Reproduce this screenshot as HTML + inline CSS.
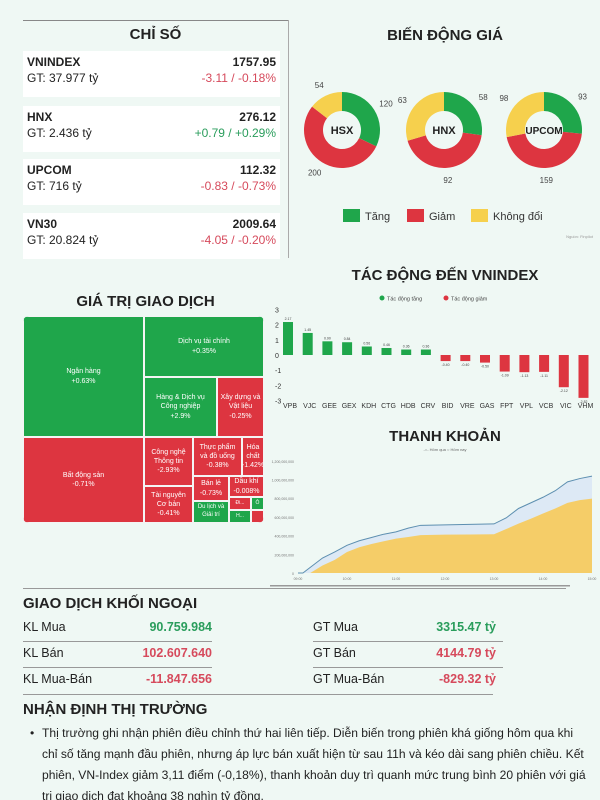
<!DOCTYPE html>
<html><head><meta charset="utf-8"><style>
*{margin:0;padding:0;box-sizing:border-box}
html,body{width:600px;height:800px;overflow:hidden}
body{background:#eff8f4;font-family:"Liberation Sans","Noto Sans CJK SC",sans-serif;position:relative;color:#222}
.abs{position:absolute}
.card{position:absolute;left:23px;width:257px;height:46px;background:#fff}
.card .n{position:absolute;left:4px;top:4px;font-size:12px;font-weight:bold}
.card .g{position:absolute;left:4px;top:20px;font-size:12px}
.card .v{position:absolute;right:4px;top:4px;font-size:12px;font-weight:bold}
.card .c{position:absolute;right:4px;top:20px;font-size:12px}
.red{color:#d64a5c}.grn{color:#2a9d5c}
.title{position:absolute;font-weight:bold;color:#222;text-align:center}
.tm{position:absolute;color:#fff;font-size:7px;text-align:center;display:flex;align-items:center;justify-content:center;border:1px solid #f4f4f4;line-height:1.3;overflow:hidden}
.G{background:#1fa64b}.R{background:#dd3540}
.row{position:absolute;font-size:12.5px}
.ln{position:absolute;height:1px;background:#999}
</style></head><body>
<div class="ln" style="left:23px;top:20px;width:265px;background:#888"></div>
<div class="abs" style="left:288px;top:20px;width:1px;height:238px;background:#aaa"></div>
<div class="title" style="left:23px;top:26px;width:265px;font-size:15px">CHỈ SỐ</div>
<div class="card" style="top:51px"><div class="n">VNINDEX</div><div class="g">GT: 37.977 tỷ</div><div class="v">1757.95</div><div class="c red">-3.11 / -0.18%</div></div>
<div class="card" style="top:106px"><div class="n">HNX</div><div class="g">GT: 2.436 tỷ</div><div class="v">276.12</div><div class="c grn">+0.79 / +0.29%</div></div>
<div class="card" style="top:159px"><div class="n">UPCOM</div><div class="g">GT: 716 tỷ</div><div class="v">112.32</div><div class="c red">-0.83 / -0.73%</div></div>
<div class="card" style="top:213px"><div class="n">VN30</div><div class="g">GT: 20.824 tỷ</div><div class="v">2009.64</div><div class="c red">-4.05 / -0.20%</div></div>

<div class="title" style="left:290px;top:27px;width:310px;font-size:15px">BIẾN ĐỘNG GIÁ</div>
<svg class="abs" style="left:0;top:0" width="600" height="800" id="donuts"></svg>

<div class="title" style="left:23px;top:293px;width:245px;font-size:15px">GIÁ TRỊ GIAO DỊCH</div>
<div class="abs" style="left:23px;top:316px;width:241px;height:207px;border-radius:6px;overflow:hidden">
<div class="tm G" style="left:0;top:0;width:121px;height:121px">Ngân hàng<br>+0.63%</div>
<div class="tm G" style="left:121px;top:0;width:120px;height:61px">Dịch vụ tài chính<br>+0.35%</div>
<div class="tm G" style="left:121px;top:61px;width:73px;height:60px">Hàng &amp; Dịch vụ<br>Công nghiệp<br>+2.9%</div>
<div class="tm R" style="left:194px;top:61px;width:47px;height:60px">Xây dựng và<br>Vật liệu<br>-0.25%</div>
<div class="tm R" style="left:0;top:121px;width:121px;height:86px">Bất động sản<br>-0.71%</div>
<div class="tm R" style="left:121px;top:121px;width:49px;height:49px">Công nghệ<br>Thông tin<br>-2.93%</div>
<div class="tm R" style="left:121px;top:170px;width:49px;height:37px">Tài nguyên<br>Cơ bản<br>-0.41%</div>
<div class="tm R" style="left:170px;top:121px;width:49px;height:39px">Thực phẩm<br>và đồ uống<br>-0.38%</div>
<div class="tm R" style="left:219px;top:121px;width:22px;height:39px">Hóa<br>chất<br>-1.42%</div>
<div class="tm R" style="left:170px;top:160px;width:36px;height:25px">Bán lẻ<br>-0.73%</div>
<div class="tm R" style="left:206px;top:160px;width:35px;height:21px">Dầu khí<br>-0.008%</div>
<div class="tm G" style="left:170px;top:185px;width:36px;height:22px;font-size:6px">Du lịch và<br>Giải trí</div>
<div class="tm R" style="left:206px;top:181px;width:22px;height:13px;font-size:5px">Đi...</div>
<div class="tm G" style="left:228px;top:181px;width:13px;height:13px;font-size:5px">Ô</div>
<div class="tm G" style="left:206px;top:194px;width:22px;height:13px;font-size:5px">H...</div>
<div class="tm R" style="left:228px;top:194px;width:13px;height:13px"></div>
</div>

<div class="title" style="left:290px;top:267px;width:310px;font-size:15px">TÁC ĐỘNG ĐẾN VNINDEX</div>
<div class="title" style="left:290px;top:428px;width:310px;font-size:15px">THANH KHOẢN</div>
<svg class="abs" style="left:0;top:0" width="600" height="800" id="charts"></svg>

<div class="ln" style="left:23px;top:588px;width:543px"></div>
<div class="abs" style="left:23px;top:595px;font-size:15px;font-weight:bold">GIAO DỊCH KHỐI NGOẠI</div>
<div class="row" style="left:23px;top:620px">KL Mua</div>
<div class="row grn" style="left:120px;width:92px;text-align:right;top:620px;font-weight:bold">90.759.984</div>
<div class="ln" style="left:23px;top:641px;width:189px"></div>
<div class="row" style="left:23px;top:646px">KL Bán</div>
<div class="row red" style="left:100px;width:112px;text-align:right;top:646px;font-weight:bold">102.607.640</div>
<div class="ln" style="left:23px;top:667px;width:189px"></div>
<div class="row" style="left:23px;top:672px">KL Mua-Bán</div>
<div class="row red" style="left:100px;width:112px;text-align:right;top:672px;font-weight:bold">-11.847.656</div>
<div class="row" style="left:313px;top:620px">GT Mua</div>
<div class="row grn" style="left:400px;width:96px;text-align:right;top:620px;font-weight:bold">3315.47 tỷ</div>
<div class="ln" style="left:313px;top:641px;width:190px"></div>
<div class="row" style="left:313px;top:646px">GT Bán</div>
<div class="row red" style="left:400px;width:96px;text-align:right;top:646px;font-weight:bold">4144.79 tỷ</div>
<div class="ln" style="left:313px;top:667px;width:190px"></div>
<div class="row" style="left:313px;top:672px">GT Mua-Bán</div>
<div class="row red" style="left:400px;width:96px;text-align:right;top:672px;font-weight:bold">-829.32 tỷ</div>
<div class="ln" style="left:23px;top:694px;width:470px"></div>
<div class="abs" style="left:23px;top:701px;font-size:15px;font-weight:bold">NHẬN ĐỊNH THỊ TRƯỜNG</div>
<ul class="abs" style="left:30px;top:723px;width:560px;height:77px;overflow:hidden;font-size:12.1px;line-height:21px;list-style:none">
<li style="padding-left:12px;position:relative"><span style="position:absolute;left:0">•</span>Thị trường ghi nhận phiên điều chỉnh thứ hai liên tiếp. Diễn biến trong phiên khá giống hôm qua khi chỉ số tăng mạnh đầu phiên, nhưng áp lực bán xuất hiện từ sau 11h và kéo dài sang phiên chiều. Kết phiên, VN-Index giảm 3,11 điểm (-0,18%), thanh khoản duy trì quanh mức trung bình 20 phiên với giá trị giao dịch đạt khoảng 38 nghìn tỷ đồng.</li>
<li style="padding-left:12px;position:relative"><span style="position:absolute;left:0">•</span>Về diễn biến nhóm ngành, các cổ phiếu họ Vin như VIC, VHM giảm điểm, gây áp lực đáng kể lên thị trường.</li>
</ul>

<script>
const NS="http://www.w3.org/2000/svg";
function mk(p,tag,at){const e=document.createElementNS(NS,tag);for(const k in at)e.setAttribute(k,at[k]);p.appendChild(e);return e;}
// ---- donuts data
const exchanges=["HSX","HNX","UPCOM"];
const upCounts=[120,58,93];
const downCounts=[200,92,159];
const flatCounts=[54,63,98];
const dColors=["#1fa64b","#dd3540","#f6d04d"];
const D=document.getElementById('donuts');
const dCx=[342,444,544], dCy=130, rO=38, rI=19;
function arc(cx,cy,a0,a1){const p=(a,r)=>[cx+r*Math.sin(a),cy-r*Math.cos(a)];const l=a1-a0>Math.PI?1:0;
const [x0,y0]=p(a0,rO),[x1,y1]=p(a1,rO),[x2,y2]=p(a1,rI),[x3,y3]=p(a0,rI);
return `M${x0},${y0}A${rO},${rO} 0 ${l} 1 ${x1},${y1}L${x2},${y2}A${rI},${rI} 0 ${l} 0 ${x3},${y3}Z`;}
exchanges.forEach((ex,i)=>{const vals=[upCounts[i],downCounts[i],flatCounts[i]];const tot=vals.reduce((a,b)=>a+b);let a=0;
vals.forEach((v,j)=>{const a1=a+v/tot*2*Math.PI;const s=mk(D,'path',{d:arc(dCx[i],dCy,a,a1),fill:dColors[j]});


const m=(a+a1)/2;const t=mk(D,'text',{x:dCx[i]+52*Math.sin(m),y:dCy-50*Math.cos(m)+3,'font-size':8,'text-anchor':'middle',fill:'#444'});t.textContent=v;


a=a1;});
const c=mk(D,'text',{x:dCx[i],y:dCy+4,'font-size':ex.length>3?10:11,'font-weight':'bold','text-anchor':'middle',fill:'#222'});c.textContent=ex;

});
const legN=["Tăng","Giảm","Không đổi"],legX=[343,407,471];
legN.forEach((n,i)=>{const r=mk(D,'rect',{x:legX[i],y:209,width:17,height:13,fill:dColors[i]});


const t=mk(D,'text',{x:legX[i]+22,y:220,'font-size':11,fill:'#333'});t.textContent=n;

});
const src=mk(D,'text',{x:593,y:238,'font-size':4,'text-anchor':'end',fill:'#999'});src.textContent="Nguồn: Finpilot";

// ---- impact bar chart
const tickers=["VPB","VJC","GEE","GEX","KDH","CTG","HDB","CRV","BID","VRE","GAS","FPT","VPL","VCB","VIC","VHM"];
const impacts=[2.17,1.45,0.90,0.84,0.56,0.46,0.36,0.36,-0.40,-0.40,-0.50,-1.09,-1.13,-1.11,-2.12,-2.82];
const yTicks=[3,2,1,0,-1,-2,-3];
const C=document.getElementById('charts');
const by=v=>355-v*15.2, bx=i=>288+i*19.7;
yTicks.forEach(t=>{const e=mk(C,'text',{x:275,y:by(t)+3,'font-size':7,fill:'#333'});e.textContent=t;

});
impacts.forEach((v,i)=>{const y0=by(Math.max(v,0)),h=Math.abs(by(v)-by(0));
const r=mk(C,'rect',{x:bx(i)-5,y:y0,width:10,height:h,fill:v>=0?'#1fa64b':'#dd3540'});


const l=mk(C,'text',{x:bx(i),y:v>=0?y0-2:by(v)+5,'font-size':3.5,'text-anchor':'middle',fill:'#444'});l.textContent=v.toFixed(2);
const t=mk(C,'text',{x:bx(i)+2,y:408,'font-size':7,'text-anchor':'middle',fill:'#333'});t.textContent=tickers[i];

});
[[382,'#1fa64b','Tác động tăng'],[446,'#dd3540','Tác động giảm']].forEach(([x,c,n])=>{mk(C,'circle',{cx:x,cy:298,r:2.5,fill:c});
const t=mk(C,'text',{x:x+5,y:300.5,'font-size':5.5,fill:'#444'});t.textContent=n;

});

// ---- liquidity area chart
const times=[9,9.1,9.25,9.5,9.75,10,10.25,10.5,10.75,11,11.25,11.5,12,12.5,13,13.25,13.5,13.75,14,14.25,14.5,14.75,15];
const todayVol=[0,0,60,160,225,296,345,380,415,440,480,510,515,520,525,590,690,750,810,880,975,1010,1036];
const prevVol=[0,0,0,80,140,225,275,310,340,368,385,405,410,412,414,470,528,580,636,690,750,780,796];
const liqTicks=[0,200,400,600,800,1000,1200];
const timeLabels=["09:00","10:00","11:00","12:00","13:00","14:00","15:00"];
const lx=t=>298+(t-9)*49, ly=v=>573-v*0.0935;
liqTicks.forEach(t=>{const e=mk(C,'text',{x:294,y:ly(t)+2,'font-size':3.5,'text-anchor':'end',fill:'#777'});e.textContent=(t*1000000).toLocaleString('en-US');

});
timeLabels.forEach((s,i)=>{const e=mk(C,'text',{x:lx(9+i),y:580,'font-size':3.5,'text-anchor':'middle',fill:'#777'});e.textContent=s;

});
function area(vals){return 'M'+lx(times[0])+','+ly(0)+vals.map((v,i)=>'L'+lx(times[i])+','+ly(v)).join('')+'L'+lx(times[times.length-1])+','+ly(0)+'Z';}
const a1=mk(C,'path',{d:area(todayVol),fill:'#dde9f5'});


const a2=mk(C,'path',{d:area(prevVol),fill:'#f5cd68'});


const ln=mk(C,'path',{d:'M'+todayVol.map((v,i)=>lx(times[i])+','+ly(v)).join('L'),fill:'none',stroke:'#5d8fb0','stroke-width':1});


const lg=mk(C,'text',{x:445,y:451,'font-size':4,'text-anchor':'middle',fill:'#666'});lg.textContent="-○- Hôm qua   ○ Hôm nay";


mk(C,'rect',{x:270,y:585,width:300,height:1.5,fill:'#999'});
</script>
</body></html>
